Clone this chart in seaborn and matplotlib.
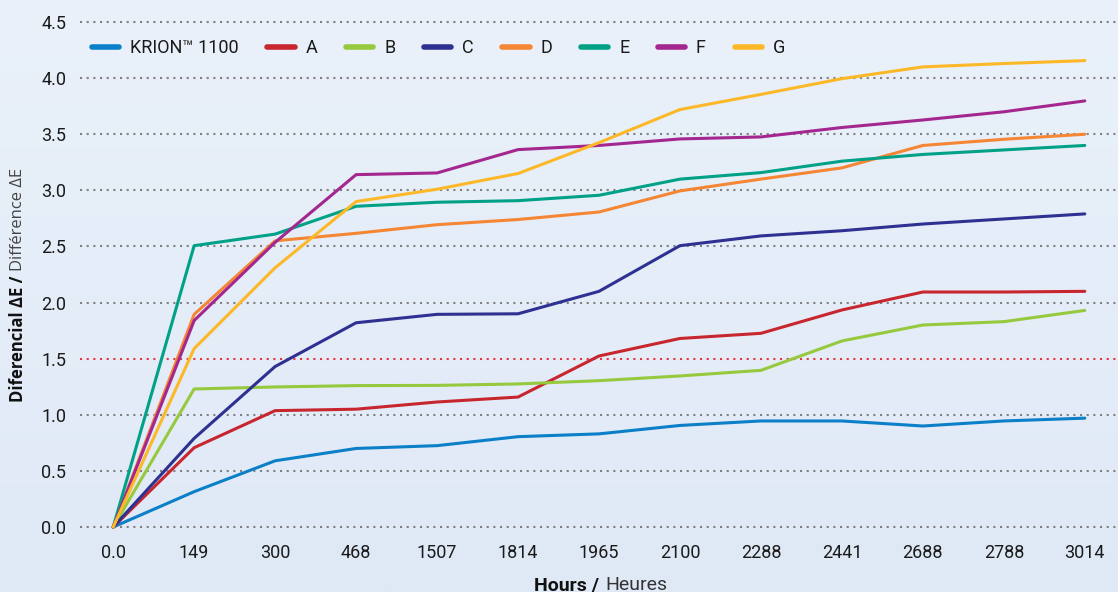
import numpy as np
import pandas as pd
import seaborn as sns
from matplotlib import pyplot as plt
from matplotlib.colors import LinearSegmentedColormap

hours = ["0.0", "149", "300", "468", "1507", "1814", "1965", "2100", "2288", "2441", "2688", "2788", "3014"]

krion = [0, 0.315, 0.59, 0.70, 0.725, 0.805, 0.83, 0.905, 0.945, 0.945, 0.90, 0.945, 0.97]
a_vals = [0, 0.707, 1.037, 1.05, 1.114, 1.158, 1.524, 1.68, 1.726, 1.934, 2.094, 2.094, 2.10]
b_vals = [0, 1.23, 1.248, 1.26, 1.262, 1.275, 1.304, 1.346, 1.396, 1.658, 1.80, 1.83, 1.93]
c_vals = [0, 0.79, 1.43, 1.82, 1.895, 1.90, 2.10, 2.507, 2.594, 2.64, 2.70, 2.745, 2.79]
d_vals = [0, 1.895, 2.55, 2.617, 2.694, 2.74, 2.807, 2.995, 3.10, 3.20, 3.40, 3.455, 3.50]
e_vals = [0, 2.507, 2.61, 2.858, 2.894, 2.908, 2.956, 3.10, 3.158, 3.26, 3.32, 3.36, 3.40]
f_vals = [0, 1.84, 2.537, 3.14, 3.155, 3.363, 3.40, 3.458, 3.476, 3.56, 3.627, 3.70, 3.797]
g_vals = [0, 1.59, 2.31, 2.90, 3.01, 3.15, 3.425, 3.72, 3.855, 3.995, 4.10, 4.13, 4.156]

names = ["KRION™ 1100", "A", "B", "C", "D", "E", "F", "G"]
colors = ["#0b7fc7", "#c8262e", "#96c93d", "#2e3192", "#f58634", "#00a187", "#a4278f", "#fdb827"]
limit = 1.5

series = [krion, a_vals, b_vals, c_vals, d_vals, e_vals, f_vals, g_vals]
rows = []
for name, vals in zip(names, series):
    for i, v in enumerate(vals):
        rows.append({"pos": i, "serie": name, "dE": v})
df = pd.DataFrame(rows)

sns.set_style("white")
plt.rcParams["font.family"] = ["Roboto", "DejaVu Sans"]

fig = plt.figure(figsize=(11.18, 5.92), dpi=100)

# soft blue background gradient
bg = fig.add_axes([0, 0, 1, 1], zorder=-10)
grad = np.linspace(0, 1, 256).reshape(-1, 1)
cmap = LinearSegmentedColormap.from_list("bg", ["#eaf1fa", "#dfe9f6"])
bg.imshow(grad, aspect="auto", cmap=cmap, extent=[0, 1, 0, 1])
bg.axis("off")

ax = fig.add_axes([80 / 1118, 0.1003, 1 - 80 / 1118, 0.872])
ax.set_facecolor("none")

for y in np.arange(0, 4.51, 0.5):
    if abs(y - limit) < 1e-6:
        continue
    ax.axhline(y, color="#808080", lw=1.5, ls=(0, (1, 2.2)), zorder=1)
ax.axhline(limit, color="#e8343c", lw=1.5, ls=(0, (1, 2.2)), zorder=1)

sns.lineplot(data=df, x="pos", y="dE", hue="serie", hue_order=names,
             palette=colors, lw=2.2, ax=ax, legend=False, zorder=3)

ax.set_xlim(-0.41, 12.41)
ax.set_ylim(-0.05, 4.55)
ax.set_xticks(range(len(hours)))
ax.set_xticklabels(hours)
ax.set_yticks(np.arange(0, 4.51, 0.5))
ax.set_yticklabels([f"{v:.1f}" for v in np.arange(0, 4.51, 0.5)])
ax.tick_params(axis="both", length=0, labelsize=13, colors="#1a1a1a")
ax.tick_params(axis="x", pad=8)
ax.tick_params(axis="y", pad=10)
for s in ax.spines.values():
    s.set_visible(False)
ax.set_xlabel("")
ax.set_ylabel("")

handles = [plt.Line2D([], [], color=c, lw=4, solid_capstyle="round") for c in colors]
fig.legend(handles, names, loc="center left", bbox_to_anchor=(92 / 1118, 1 - 48 / 592),
           ncol=8, frameon=False, fontsize=13, handlelength=1.5, handletextpad=0.6,
           columnspacing=1.6, borderpad=0, borderaxespad=0, labelcolor="#1a1a1a")

# axis titles with mixed weight
fig.text(599 / 1118, 2 / 592, "Hours /", ha="right", va="baseline",
         fontsize=14, fontweight="bold", color="#111111")
fig.text(605 / 1118, 2 / 592, "Heures", ha="left", va="baseline",
         fontsize=14, color="#333333")
fig.text(18 / 1118, 1 - 276 / 592, "Diferencial ΔE /", rotation=90, ha="center", va="top",
         fontsize=12, fontweight="bold", family=["Open Sans", "DejaVu Sans"], color="#111111")
fig.text(18 / 1118, 1 - 271 / 592, "Différence ΔE", rotation=90, ha="center", va="bottom",
         fontsize=12, family=["Open Sans", "DejaVu Sans"], color="#444444")

fig.savefig("out.png", dpi=100)
